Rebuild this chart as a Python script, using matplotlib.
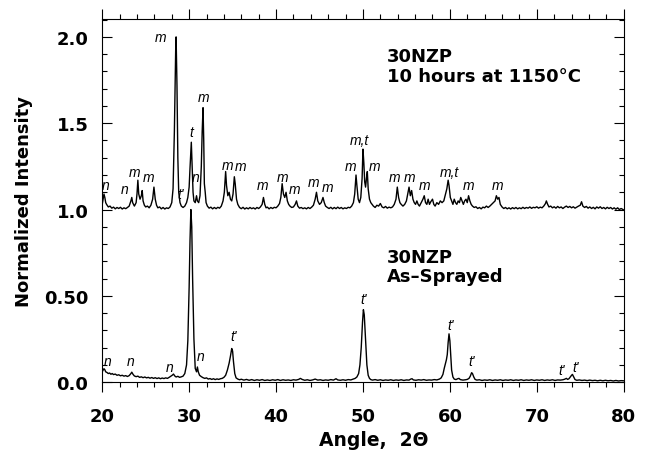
import numpy as np
import matplotlib
matplotlib.use("Agg")
import matplotlib.pyplot as plt
from matplotlib.ticker import MultipleLocator, FixedLocator, FixedFormatter

plt.rcParams['font.family'] = ['DejaVu Sans']

# 30NZP, 10 hours at 1150 C (already offset by +1.0): (2theta, intensity)
heated = [
    (20.0, 1.03), (20.1, 1.06), (20.2, 1.09), (20.3, 1.07), (20.4, 1.04), (20.5, 1.03),
    (20.7, 1.015), (20.9, 1.02), (21.1, 1.008), (21.3, 1.014), (21.5, 1.004), (21.7, 1.012),
    (21.9, 1.006), (22.1, 1.013), (22.3, 1.003), (22.5, 1.01), (22.7, 1.005), (22.9, 1.012),
    (23.1, 1.02), (23.3, 1.05), (23.4, 1.07), (23.5, 1.04), (23.7, 1.02), (23.9, 1.04),
    (24.0, 1.09), (24.1, 1.17), (24.2, 1.09), (24.35, 1.06), (24.5, 1.08), (24.6, 1.11),
    (24.7, 1.05), (24.85, 1.025), (25.0, 1.015), (25.2, 1.02), (25.4, 1.01), (25.6, 1.025),
    (25.8, 1.06), (25.95, 1.13), (26.1, 1.06), (26.25, 1.025), (26.4, 1.01), (26.6, 1.015),
    (26.8, 1.004), (27.0, 1.012), (27.2, 1.003), (27.4, 1.01), (27.6, 1.006), (27.8, 1.015),
    (28.0, 1.04), (28.15, 1.12), (28.3, 1.45), (28.45, 1.92), (28.5, 2.0), (28.6, 1.72),
    (28.7, 1.3), (28.8, 1.1), (28.95, 1.04), (29.1, 1.02), (29.3, 1.012), (29.5, 1.02),
    (29.7, 1.04), (29.85, 1.07), (30.0, 1.13), (30.1, 1.24), (30.25, 1.39), (30.35, 1.25),
    (30.45, 1.1), (30.55, 1.05), (30.7, 1.04), (30.85, 1.08), (30.95, 1.05), (31.1, 1.04),
    (31.25, 1.08), (31.4, 1.25), (31.5, 1.45), (31.6, 1.59), (31.68, 1.4), (31.75, 1.15),
    (31.85, 1.1), (31.95, 1.04), (32.1, 1.02), (32.3, 1.008), (32.5, 1.014), (32.7, 1.004),
    (32.9, 1.012), (33.1, 1.005), (33.3, 1.013), (33.5, 1.008), (33.7, 1.02), (33.9, 1.05),
    (34.05, 1.1), (34.2, 1.22), (34.3, 1.14), (34.45, 1.08), (34.6, 1.1), (34.75, 1.06),
    (34.9, 1.05), (35.05, 1.09), (35.2, 1.19), (35.3, 1.15), (35.45, 1.06), (35.6, 1.03),
    (35.8, 1.012), (36.0, 1.005), (36.2, 1.013), (36.4, 1.003), (36.6, 1.01), (36.8, 1.004),
    (37.0, 1.012), (37.2, 1.005), (37.4, 1.01), (37.6, 1.003), (37.8, 1.012), (38.0, 1.006),
    (38.2, 1.015), (38.4, 1.03), (38.55, 1.07), (38.7, 1.03), (38.85, 1.01), (39.0, 1.014),
    (39.2, 1.004), (39.4, 1.012), (39.6, 1.006), (39.8, 1.013), (40.0, 1.01), (40.2, 1.02),
    (40.4, 1.035), (40.55, 1.07), (40.7, 1.15), (40.85, 1.09), (41.0, 1.07), (41.15, 1.1),
    (41.3, 1.05), (41.45, 1.03), (41.6, 1.02), (41.8, 1.012), (42.0, 1.015), (42.2, 1.03),
    (42.35, 1.05), (42.5, 1.02), (42.7, 1.008), (42.9, 1.012), (43.1, 1.005), (43.3, 1.01),
    (43.5, 1.004), (43.7, 1.012), (43.9, 1.006), (44.1, 1.014), (44.3, 1.025), (44.5, 1.06),
    (44.65, 1.1), (44.8, 1.05), (45.0, 1.03), (45.2, 1.04), (45.4, 1.07), (45.55, 1.04),
    (45.7, 1.02), (45.9, 1.012), (46.1, 1.006), (46.3, 1.013), (46.5, 1.004), (46.7, 1.012),
    (46.9, 1.005), (47.1, 1.014), (47.3, 1.006), (47.5, 1.012), (47.7, 1.004), (47.9, 1.01),
    (48.1, 1.006), (48.3, 1.013), (48.5, 1.01), (48.7, 1.02), (48.9, 1.04), (49.05, 1.09),
    (49.2, 1.2), (49.3, 1.14), (49.45, 1.06), (49.6, 1.04), (49.75, 1.07), (49.9, 1.18),
    (50.0, 1.35), (50.1, 1.27), (50.2, 1.16), (50.3, 1.13), (50.4, 1.18), (50.5, 1.22),
    (50.6, 1.12), (50.75, 1.06), (50.9, 1.04), (51.05, 1.03), (51.2, 1.02), (51.4, 1.012),
    (51.6, 1.025), (51.8, 1.02), (52.0, 1.035), (52.2, 1.015), (52.4, 1.01), (52.6, 1.018),
    (52.8, 1.008), (53.0, 1.014), (53.2, 1.01), (53.4, 1.015), (53.6, 1.03), (53.8, 1.06),
    (53.95, 1.13), (54.1, 1.07), (54.25, 1.04), (54.4, 1.03), (54.6, 1.02), (54.8, 1.03),
    (55.0, 1.05), (55.15, 1.09), (55.3, 1.13), (55.45, 1.08), (55.6, 1.11), (55.75, 1.06),
    (55.9, 1.04), (56.05, 1.03), (56.2, 1.05), (56.35, 1.03), (56.5, 1.02), (56.7, 1.04),
    (56.9, 1.06), (57.05, 1.08), (57.2, 1.04), (57.35, 1.03), (57.5, 1.06), (57.65, 1.03),
    (57.8, 1.045), (58.0, 1.06), (58.15, 1.03), (58.3, 1.02), (58.5, 1.04), (58.7, 1.03),
    (58.9, 1.05), (59.1, 1.04), (59.3, 1.05), (59.5, 1.09), (59.65, 1.12), (59.8, 1.17),
    (59.9, 1.14), (60.05, 1.07), (60.2, 1.05), (60.35, 1.03), (60.5, 1.06), (60.65, 1.04),
    (60.8, 1.03), (60.95, 1.05), (61.1, 1.04), (61.25, 1.07), (61.4, 1.05), (61.55, 1.03),
    (61.7, 1.05), (61.85, 1.06), (62.0, 1.04), (62.15, 1.08), (62.3, 1.05), (62.45, 1.03),
    (62.6, 1.02), (62.8, 1.012), (63.0, 1.016), (63.2, 1.006), (63.4, 1.012), (63.6, 1.004),
    (63.8, 1.014), (64.0, 1.01), (64.2, 1.02), (64.4, 1.012), (64.6, 1.02), (64.8, 1.03),
    (65.0, 1.04), (65.2, 1.05), (65.35, 1.08), (65.5, 1.06), (65.65, 1.07), (65.8, 1.03),
    (66.0, 1.015), (66.2, 1.006), (66.4, 1.012), (66.6, 1.004), (66.8, 1.01), (67.0, 1.003),
    (67.2, 1.011), (67.4, 1.005), (67.6, 1.012), (67.8, 1.004), (68.0, 1.01), (68.2, 1.005),
    (68.4, 1.013), (68.6, 1.006), (68.8, 1.012), (69.0, 1.008), (69.2, 1.015), (69.4, 1.007),
    (69.6, 1.013), (69.8, 1.01), (70.0, 1.016), (70.2, 1.008), (70.4, 1.014), (70.6, 1.01),
    (70.8, 1.02), (71.0, 1.035), (71.1, 1.05), (71.25, 1.03), (71.4, 1.015), (71.6, 1.02),
    (71.8, 1.01), (72.0, 1.016), (72.2, 1.008), (72.4, 1.018), (72.6, 1.01), (72.8, 1.015),
    (73.0, 1.006), (73.2, 1.014), (73.4, 1.02), (73.6, 1.012), (73.8, 1.018), (74.0, 1.01),
    (74.2, 1.016), (74.4, 1.008), (74.6, 1.014), (74.8, 1.02), (75.0, 1.025), (75.15, 1.045),
    (75.3, 1.02), (75.5, 1.012), (75.7, 1.018), (75.9, 1.008), (76.1, 1.015), (76.3, 1.006),
    (76.5, 1.013), (76.7, 1.004), (76.9, 1.015), (77.1, 1.008), (77.3, 1.016), (77.5, 1.006),
    (77.7, 1.012), (77.9, 1.004), (78.1, 1.013), (78.3, 1.006), (78.5, 1.012), (78.7, 1.003),
    (78.9, 1.01), (79.1, 1.002), (79.3, 1.01), (79.5, 1.0), (79.7, 1.006), (80.0, 0.998),
]

# 30NZP, as-sprayed: (2theta, intensity)
sprayed = [
    (20.0, 0.06), (20.1, 0.07), (20.2, 0.078), (20.3, 0.072), (20.4, 0.06), (20.55, 0.056),
    (20.7, 0.05), (20.85, 0.053), (21.0, 0.046), (21.15, 0.05), (21.3, 0.044), (21.5, 0.047),
    (21.7, 0.04), (21.9, 0.043), (22.1, 0.037), (22.3, 0.04), (22.5, 0.035), (22.7, 0.038),
    (22.9, 0.033), (23.1, 0.038), (23.3, 0.05), (23.4, 0.058), (23.55, 0.045), (23.7, 0.036),
    (23.9, 0.032), (24.1, 0.035), (24.3, 0.028), (24.5, 0.031), (24.7, 0.026), (24.9, 0.03),
    (25.1, 0.025), (25.3, 0.028), (25.5, 0.023), (25.7, 0.027), (25.9, 0.022), (26.1, 0.026),
    (26.3, 0.021), (26.5, 0.025), (26.7, 0.02), (26.9, 0.024), (27.1, 0.021), (27.3, 0.025),
    (27.5, 0.022), (27.7, 0.028), (27.9, 0.035), (28.05, 0.04), (28.2, 0.047), (28.35, 0.036),
    (28.5, 0.03), (28.7, 0.034), (28.9, 0.028), (29.1, 0.031), (29.3, 0.035), (29.5, 0.05),
    (29.7, 0.1), (29.85, 0.24), (30.0, 0.55), (30.1, 0.82), (30.2, 1.0), (30.3, 0.9),
    (30.4, 0.6), (30.55, 0.25), (30.7, 0.08), (30.85, 0.06), (30.95, 0.088), (31.05, 0.06),
    (31.2, 0.04), (31.4, 0.032), (31.6, 0.026), (31.8, 0.022), (32.0, 0.025), (32.2, 0.018),
    (32.4, 0.021), (32.6, 0.016), (32.8, 0.02), (33.0, 0.015), (33.2, 0.019), (33.4, 0.016),
    (33.6, 0.02), (33.8, 0.022), (34.0, 0.028), (34.2, 0.04), (34.4, 0.07), (34.6, 0.11),
    (34.75, 0.15), (34.9, 0.195), (35.0, 0.18), (35.1, 0.12), (35.25, 0.05), (35.4, 0.025),
    (35.6, 0.018), (35.8, 0.014), (36.0, 0.017), (36.3, 0.012), (36.6, 0.016), (36.9, 0.011),
    (37.2, 0.015), (37.5, 0.01), (37.8, 0.014), (38.1, 0.011), (38.4, 0.015), (38.7, 0.01),
    (39.0, 0.013), (39.3, 0.01), (39.6, 0.014), (39.9, 0.011), (40.2, 0.015), (40.5, 0.01),
    (40.8, 0.014), (41.1, 0.011), (41.4, 0.013), (41.7, 0.01), (42.0, 0.014), (42.3, 0.012),
    (42.6, 0.016), (42.8, 0.022), (43.0, 0.016), (43.3, 0.011), (43.6, 0.014), (43.9, 0.01),
    (44.2, 0.013), (44.5, 0.018), (44.8, 0.012), (45.1, 0.014), (45.4, 0.01), (45.7, 0.013),
    (46.0, 0.011), (46.3, 0.015), (46.6, 0.012), (46.9, 0.02), (47.1, 0.013), (47.4, 0.011),
    (47.7, 0.014), (48.0, 0.011), (48.3, 0.015), (48.6, 0.013), (48.9, 0.018), (49.1, 0.022),
    (49.3, 0.03), (49.5, 0.05), (49.65, 0.1), (49.8, 0.2), (49.95, 0.35), (50.05, 0.42),
    (50.15, 0.39), (50.3, 0.25), (50.45, 0.1), (50.6, 0.04), (50.75, 0.022), (50.9, 0.015),
    (51.1, 0.012), (51.4, 0.015), (51.7, 0.011), (52.0, 0.014), (52.3, 0.01), (52.6, 0.013),
    (52.9, 0.011), (53.2, 0.014), (53.5, 0.01), (53.8, 0.013), (54.1, 0.011), (54.4, 0.014),
    (54.7, 0.01), (55.0, 0.013), (55.3, 0.012), (55.5, 0.018), (55.65, 0.02), (55.8, 0.013),
    (56.1, 0.011), (56.4, 0.014), (56.7, 0.012), (57.0, 0.015), (57.3, 0.011), (57.6, 0.013),
    (57.9, 0.012), (58.2, 0.015), (58.5, 0.013), (58.8, 0.018), (59.0, 0.025), (59.2, 0.045),
    (59.35, 0.08), (59.5, 0.11), (59.6, 0.13), (59.7, 0.16), (59.8, 0.23), (59.9, 0.28),
    (60.0, 0.24), (60.1, 0.15), (60.2, 0.07), (60.35, 0.03), (60.5, 0.018), (60.7, 0.015),
    (60.9, 0.02), (61.05, 0.022), (61.2, 0.015), (61.5, 0.012), (61.8, 0.014), (62.0, 0.016),
    (62.2, 0.022), (62.35, 0.035), (62.5, 0.055), (62.6, 0.05), (62.75, 0.03), (62.9, 0.016),
    (63.1, 0.012), (63.4, 0.014), (63.7, 0.01), (64.0, 0.013), (64.3, 0.011), (64.6, 0.014),
    (64.9, 0.01), (65.2, 0.013), (65.5, 0.011), (65.8, 0.014), (66.1, 0.01), (66.4, 0.013),
    (66.7, 0.011), (67.0, 0.014), (67.3, 0.01), (67.6, 0.013), (67.9, 0.011), (68.2, 0.014),
    (68.5, 0.01), (68.8, 0.013), (69.1, 0.011), (69.4, 0.014), (69.7, 0.01), (70.0, 0.013),
    (70.3, 0.011), (70.6, 0.014), (70.9, 0.01), (71.2, 0.013), (71.5, 0.011), (71.8, 0.014),
    (72.1, 0.01), (72.4, 0.013), (72.7, 0.012), (73.0, 0.014), (73.2, 0.017), (73.4, 0.022),
    (73.55, 0.016), (73.7, 0.02), (73.85, 0.03), (74.0, 0.04), (74.1, 0.045), (74.25, 0.03),
    (74.4, 0.015), (74.6, 0.011), (74.9, 0.013), (75.2, 0.01), (75.5, 0.012), (75.8, 0.009),
    (76.1, 0.012), (76.4, 0.009), (76.7, 0.011), (77.0, 0.008), (77.3, 0.011), (77.6, 0.008),
    (77.9, 0.011), (78.2, 0.008), (78.5, 0.01), (78.8, 0.007), (79.1, 0.01), (79.4, 0.007),
    (79.7, 0.009), (80.0, 0.008),
]

# phase labels: text, 2theta, y
heated_labels = [
    ("n", 20.45, 1.14), ("n", 22.6, 1.12), ("m", 23.7, 1.22), ("m", 25.3, 1.19),
    ("m", 26.7, 2.0), ("t", 30.2, 1.45), ("n", 30.7, 1.19), ("m", 31.6, 1.65),
    ("m", 34.4, 1.26), ("m", 35.9, 1.25), ("m", 38.4, 1.14), ("m", 40.7, 1.19),
    ("m", 42.1, 1.12), ("m", 44.3, 1.16), ("m", 45.9, 1.13), ("m", 48.6, 1.25),
    ("m,t", 49.6, 1.40), ("m", 51.3, 1.25), ("m", 53.6, 1.19), ("m", 55.3, 1.19),
    ("m", 57.1, 1.14), ("m,t", 59.9, 1.22), ("m", 62.2, 1.14), ("m", 65.5, 1.14),
]
sprayed_labels = [
    ("t'", 29.0, 1.09), ("n", 20.6, 0.12), ("n", 23.3, 0.12), ("n", 27.8, 0.09),
    ("n", 31.3, 0.15), ("t'", 35.1, 0.27), ("t'", 50.1, 0.48), ("t'", 60.1, 0.33),
    ("t'", 62.5, 0.12), ("t'", 72.9, 0.07), ("t'", 74.5, 0.09),
]

y_ticks = [0.0, 0.5, 1.0, 1.5, 2.0]
y_tick_labels = ["0.0", "0.50", "1.0", "1.5", "2.0"]

fig = plt.figure(figsize=(6.47, 4.6), dpi=100)
ax = fig.add_axes([0.158, 0.167, 0.806, 0.79])

for curve in (heated, sprayed):
    xy = np.array(curve)
    ax.plot(xy[:, 0], xy[:, 1], color='black', lw=1.0)

for txt, x, y in heated_labels + sprayed_labels:
    ax.text(x, y, txt, fontsize=10, style='italic', ha='center', va='center',
            family='Liberation Sans')

ax.text(52.76, 1.94, "30NZP\n10 hours at 1150°C", fontsize=13, fontweight='bold',
        ha='left', va='top', linespacing=1.1)
ax.text(52.76, 0.78, "30NZP\nAs\u2013Sprayed", fontsize=13, fontweight='bold',
        ha='left', va='top', linespacing=1.1)

ax.set_xlim(20, 80)
ax.set_ylim(0, 2.105)
ax.xaxis.set_major_locator(MultipleLocator(10))
ax.xaxis.set_minor_locator(MultipleLocator(2))
ax.yaxis.set_major_locator(FixedLocator(y_ticks))
ax.yaxis.set_major_formatter(FixedFormatter(y_tick_labels))
ax.yaxis.set_minor_locator(MultipleLocator(0.1))

ax.tick_params(axis='x', which='both', direction='out', top=True, bottom=True)
ax.tick_params(axis='y', which='both', direction='in', left=True, right=True)
ax.tick_params(which='major', length=7, width=0.8)
ax.tick_params(which='minor', length=3.6, width=0.8)
ax.tick_params(axis='x', which='major', pad=11, labelsize=13)
ax.tick_params(axis='y', which='major', pad=10, labelsize=13)
for lab in ax.get_xticklabels() + ax.get_yticklabels():
    lab.set_fontweight('bold')
for s in ax.spines.values():
    s.set_linewidth(0.8)

ax.set_xlabel("Angle,  2\u0398", fontsize=13.5, fontweight='bold')
ax.xaxis.set_label_coords(0.521, -0.132)
ax.set_ylabel("Normalized Intensity", fontsize=13, fontweight='bold', labelpad=8)

fig.savefig("out.png", dpi=100)
